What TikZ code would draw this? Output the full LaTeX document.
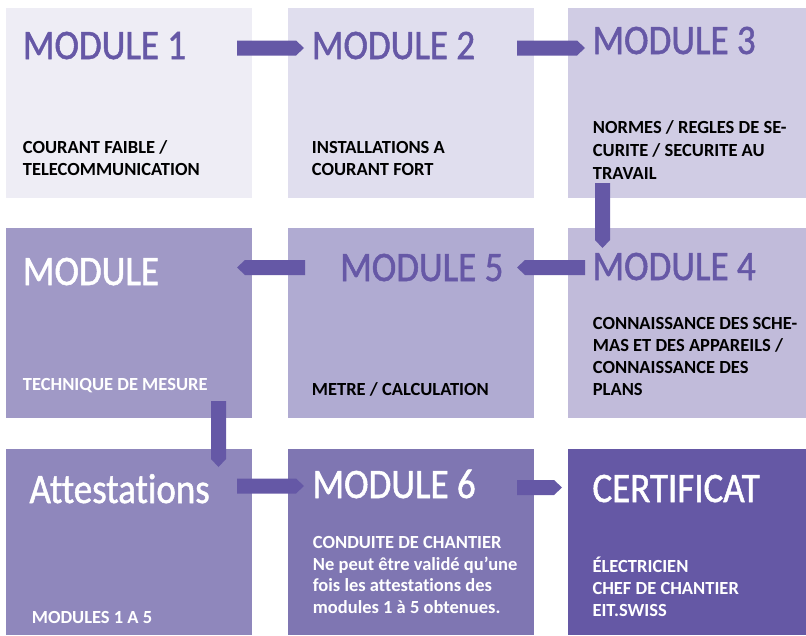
\documentclass[tikz,border=0pt]{standalone}
\usepackage{fontspec}
\setmainfont[Ligatures={NoCommon}]{Carlito}
\newfontfamily\titlefont[FakeStretch=0.88,FakeBold=1.2,Ligatures={NoCommon}]{Carlito}
\usetikzlibrary{calc}
\definecolor{cA}{HTML}{EEEDF5}
\definecolor{cB}{HTML}{E0DEEE}
\definecolor{cC}{HTML}{D0CCE4}
\definecolor{cD}{HTML}{C1BBDA}
\definecolor{cE}{HTML}{B0ABD2}
\definecolor{cF}{HTML}{A099C6}
\definecolor{cG}{HTML}{8F87BC}
\definecolor{cH}{HTML}{7F76B2}
\definecolor{cI}{HTML}{6558A5}
\definecolor{flowcol}{HTML}{6558A6}
\definecolor{titlecol}{HTML}{6658A6}
\tikzset{
  box/.style={fill=#1, draw=none, inner sep=0pt, outer sep=0pt, anchor=north west, minimum width=246pt, minimum height=190pt},
  title/.style={font=\titlefont\fontsize{42}{50}\selectfont, anchor=base west, inner sep=0pt, text=#1},
  body/.style={font=\bfseries\fontsize{18.5}{22}\selectfont, anchor=base west, inner sep=0pt, text=#1, align=left},
  flow/.style={fill=flowcol, draw=none},
}
\newcommand\flowR[2]{\fill[flow] ($(#1)+(0,-7.5)$) -- ($(#2)+(-8,-7.5)$) -- (#2) -- ($(#2)+(-8,7.5)$) -- ($(#1)+(0,7.5)$) -- cycle;}
\newcommand\flowL[2]{\fill[flow] ($(#1)+(0,-7.5)$) -- ($(#2)+(8,-7.5)$) -- (#2) -- ($(#2)+(8,7.5)$) -- ($(#1)+(0,7.5)$) -- cycle;}
\newcommand\flowD[2]{\fill[flow] ($(#1)+(-7.5,0)$) -- ($(#2)+(-7.5,-8)$) -- (#2) -- ($(#2)+(7.5,-8)$) -- ($(#1)+(7.5,0)$) -- cycle;}
\begin{document}
\begin{tikzpicture}[x=1pt, y=-1pt]
\useasboundingbox (0,0) rectangle (806,635);
% boxes
\node[box=cA] (m1) at (6,8) {};
\node[box=cB] (m2) at (288,8) {};
\node[box=cC, minimum width=238pt] (m3) at (568,8) {};
\node[box=cF] (mt) at (6,228) {};
\node[box=cE] (m5) at (288,228) {};
\node[box=cD, minimum width=238pt] (m4) at (568,228) {};
\node[box=cG, minimum height=186pt] (at) at (6,449) {};
\node[box=cH, minimum height=186pt] (m6) at (288,449) {};
\node[box=cI, minimum width=238pt, minimum height=186pt] (ce) at (568,449) {};
% titles
\node[title=titlecol] (t1) at (22.7,59) {MODULE 1};
\node[title=titlecol] (t2) at (311.7,59) {MODULE 2};
\node[title=titlecol] (t3) at (592.3,54) {MODULE 3};
\node[title=white] (tt) at (22.7,285) {MODULE};
\node[title=titlecol] (t5) at (340,281) {MODULE 5};
\node[title=titlecol] (t4) at (592.3,280) {MODULE 4};
\node[title=white] (ta) at (29.3,503) {Attestations};
\node[title=white] (t6) at (312.3,498) {MODULE 6};
\node[title=white] (tc) at (592.3,502) {CERTIFICAT};
% bodies (anchored at the baseline of their last line)
\node[body=black] (d1) at (22.7,175.7) {COURANT FAIBLE /\\TELECOMMUNICATION};
\node[body=black] (d2) at (311.7,175.5) {INSTALLATIONS A\\COURANT FORT};
\node[body=black, font=\bfseries\fontsize{18.5}{23}\selectfont] (d3) at (592.7,179.3) {NORMES / REGLES DE SE-\\CURITE / SECURITE AU\\TRAVAIL};
\node[body=white] (dt) at (22.7,390) {TECHNIQUE DE MESURE};
\node[body=black] (d5) at (311.7,395.7) {METRE / CALCULATION};
\node[body=black] (d4) at (592.7,395) {CONNAISSANCE DES SCHE-\\MAS ET DES APPAREILS /\\CONNAISSANCE DES\\PLANS};
\node[body=white] (da) at (31.7,623.3) {MODULES 1 A 5};
\node[body=white, font=\bfseries\fontsize{18.5}{21.7}\selectfont] (d6) at (312.7,613.5) {CONDUITE DE CHANTIER\\Ne peut être validé qu’une\\fois les attestations des\\modules 1 à 5 obtenues.};
\node[body=white] (dc) at (592.3,616) {ÉLECTRICIEN\\CHEF DE CHANTIER\\EIT.SWISS};
% connector end points
\coordinate (a12s) at (237,48);   \coordinate (a12e) at (304,48);
\coordinate (a23s) at (517,48);   \coordinate (a23e) at (585,48);
\coordinate (a34s) at (602.5,183); \coordinate (a34e) at (602.5,248);
\coordinate (a45s) at (585,267.5); \coordinate (a45e) at (517,267.5);
\coordinate (a5ts) at (305,267.5); \coordinate (a5te) at (237,267.5);
\coordinate (atas) at (218.5,401); \coordinate (atae) at (218.5,467);
\coordinate (aa6s) at (237,486);   \coordinate (aa6e) at (304,486);
\coordinate (a6cs) at (517,487.5); \coordinate (a6ce) at (562,487.5);
% connectors
\flowR{a12s}{a12e}
\flowR{a23s}{a23e}
\flowD{a34s}{a34e}
\flowL{a45s}{a45e}
\flowL{a5ts}{a5te}
\flowD{atas}{atae}
\flowR{aa6s}{aa6e}
\flowR{a6cs}{a6ce}
\end{tikzpicture}
\end{document}
